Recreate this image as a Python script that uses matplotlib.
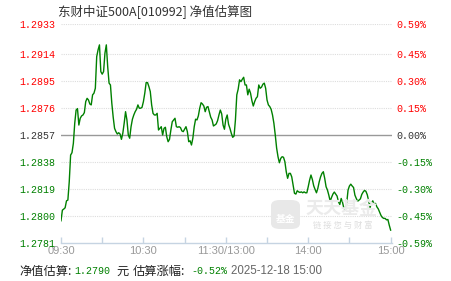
import matplotlib
matplotlib.use("Agg")
import matplotlib.pyplot as plt
from matplotlib.patches import FancyBboxPatch

# estimated change vs. last NAV (%), one point per trading minute from 09:30
pct = [
    -0.467, -0.409, -0.403, -0.396, -0.358, -0.354, -0.254, -0.108, -0.095, -0.044,
    0.066, 0.138, 0.146, 0.056, 0.093, 0.106, 0.111, 0.124, 0.184, 0.202,
    0.193, 0.171, 0.166, 0.221, 0.230, 0.257, 0.430, 0.467, 0.494, 0.348,
    0.334, 0.348, 0.449, 0.494, 0.375, 0.285, 0.275, 0.175, 0.099, 0.038,
    0.020, 0.007, 0.014, 0.007, -0.022, 0.011, 0.066, 0.129, 0.084, 0.002,
    -0.016, 0.047, 0.088, 0.111, 0.129, 0.142, 0.166, 0.148, 0.148, 0.153,
    0.184, 0.230, 0.288, 0.288, 0.266, 0.239, 0.166, 0.120, 0.111, 0.111,
    0.120, 0.029, 0.038, 0.047, 0.002, 0.038, 0.044, -0.008, -0.035, -0.022,
    0.029, 0.074, 0.084, 0.093, 0.047, 0.044, 0.047, 0.042, 0.024, 0.020,
    0.033, 0.047, 0.020, -0.035, -0.030, -0.053, -0.016, 0.047, 0.088, 0.084,
    0.106, 0.148, 0.178, 0.171, 0.160, 0.129, 0.153, 0.157, 0.129, 0.099,
    0.084, 0.051, 0.056, 0.062, 0.080, 0.111, 0.138, 0.117, 0.056, 0.033,
    0.088, 0.111, 0.060, 0.038, 0.011, -0.011, -0.004, 0.084, 0.221, 0.252,
    0.303, 0.293, 0.306, 0.317, 0.275, 0.275, 0.221, 0.252, 0.230, 0.189,
    0.160, 0.184, 0.202, 0.211, 0.275, 0.257, 0.263, 0.279, 0.285, 0.257,
    0.193, 0.166, 0.157, 0.142, 0.111, 0.066, 0.002, -0.070, -0.117, -0.150,
    -0.126, -0.117, -0.120, -0.144, -0.199, -0.235, -0.208, -0.208, -0.227, -0.272,
    -0.317, -0.321, -0.303, -0.309, -0.312, -0.309, -0.314, -0.309, -0.314, -0.314,
    -0.281, -0.245, -0.217, -0.241, -0.276, -0.296, -0.314, -0.290, -0.254, -0.227,
    -0.208, -0.199, -0.235, -0.281, -0.299, -0.327, -0.360, -0.339, -0.321, -0.310,
    -0.321, -0.332, -0.363, -0.378, -0.345, -0.367, -0.400, -0.402, -0.372, -0.299,
    -0.277, -0.267, -0.277, -0.285, -0.327, -0.345, -0.360, -0.354, -0.347, -0.323,
    -0.310, -0.301, -0.306, -0.325, -0.358, -0.394, -0.372, -0.358, -0.376, -0.372,
    -0.391, -0.402, -0.420, -0.438, -0.449, -0.454, -0.454, -0.462, -0.460, -0.491,
    -0.518,
]
minutes = list(range(len(pct)))

left_labels = ["1.2781", "1.2800", "1.2819", "1.2838", "1.2857", "1.2876", "1.2895", "1.2914", "1.2933"]
right_labels = ["-0.59%", "-0.45%", "-0.30%", "-0.15%", "0.00%", "0.15%", "0.30%", "0.45%", "0.59%"]
time_labels = ["09:30", "10:30", "11:30/13:00", "14:00", "15:00"]

title = "东财中证500A[010992] 净值估算图"
nav_est = "1.2790"
chg_est = "-0.52%"
stamp = "2025-12-18 15:00"

RED, GREEN, DARK = "#ff0000", "#008000", "#333333"
CJK = ["Noto Sans CJK SC", "DejaVu Sans"]
MONO = ["Liberation Mono", "DejaVu Sans Mono"]

W, H = 451, 281
fig = plt.figure(figsize=(W / 100, H / 100), dpi=100)
ax = fig.add_axes([61 / W, 1 - 243.3 / H, 331 / W, 219 / H])

step = 0.1475
ymax = 0.6064
ax.set_xlim(0, 241)
ax.set_ylim(-0.59, ymax)

# grid
levels = [-4 * step, -3 * step, -2 * step, -step, 0, step, 2 * step, 3 * step, ymax]
for lv in levels[1:]:
    if lv == 0:
        ax.axhline(0, color="#999999", lw=1.0, zorder=2)
    else:
        ax.axhline(lv, color="#dddddd", lw=0.8, ls=(0, (1, 1)), zorder=1)

# watermark
fig.patches.append(FancyBboxPatch((271 / W, 1 - 229 / H), 29 / W, 29 / H,
                                  boxstyle="round,pad=0,rounding_size=0.02",
                                  transform=fig.transFigure, fc="#e8e8e8", ec="none", zorder=0))
fig.text(285.5 / W, 1 - 219 / H, "基金", color="white", fontsize=7, family=CJK,
         ha="center", va="center", weight="bold")
fig.text(342 / W, 1 - 209 / H, "天天基金", color="#ebebeb", fontsize=13, family=CJK,
         ha="center", va="center", weight="bold")
fig.text(343 / W, 1 - 225 / H, "链 接 您 与 财 富", color="#dedede", fontsize=6, family=CJK,
         ha="center", va="center")

ax.plot(minutes, pct, color=GREEN, lw=1.0, zorder=3)

for s in ["left", "right", "top"]:
    ax.spines[s].set_visible(False)
ax.spines["bottom"].set_color("#c6d4e2")
ax.spines["bottom"].set_linewidth(1.0)

ax.set_xticks(range(0, 241, 30))
ax.set_xticklabels([time_labels[i // 2] if i % 2 == 0 else "" for i in range(9)])
ax.tick_params(axis="x", direction="in", length=4, color="#c6d4e2", width=1,
               labelcolor="#999999", labelsize=8, pad=2)
for t in ax.get_xticklabels():
    t.set_family(["Liberation Sans", "DejaVu Sans"])

ax.set_yticks(levels)
ax.set_yticklabels(left_labels)
ax.tick_params(axis="y", length=0, pad=4, labelsize=7.2)

ax2 = ax.twinx()
ax2.set_ylim(ax.get_ylim())
for s in ["left", "right", "top", "bottom"]:
    ax2.spines[s].set_visible(False)
ax2.set_yticks(levels)
ax2.set_yticklabels(right_labels)
ax2.tick_params(axis="y", length=0, pad=3, labelsize=7.2)

for labels in (ax.get_yticklabels(), ax2.get_yticklabels()):
    for i, t in enumerate(labels):
        t.set_family(MONO)
        t.set_color(GREEN if i < 4 else (DARK if i == 4 else RED))

fig.text(58 / W, 1 - 12 / H, title, color=DARK, fontsize=9, family=CJK, ha="left", va="center")

yb = 1 - 271.5 / H
fig.text(19 / W, yb, "净值估算:", color="#222222", fontsize=8.8, family=CJK, va="center")
fig.text(74 / W, yb, nav_est, color=GREEN, fontsize=7.2, family=MONO, va="center")
fig.text(116 / W, yb, "元", color="#222222", fontsize=8.8, family=CJK, va="center")
fig.text(133 / W, yb, "估算涨幅:", color="#222222", fontsize=8.8, family=CJK, va="center")
fig.text(191 / W, yb, chg_est, color=GREEN, fontsize=7.2, family=MONO, va="center")
fig.text(231 / W, yb, stamp, color="#666666", fontsize=8.3, family=["Liberation Sans", "DejaVu Sans"], va="center")

fig.savefig("out.png", dpi=100)
